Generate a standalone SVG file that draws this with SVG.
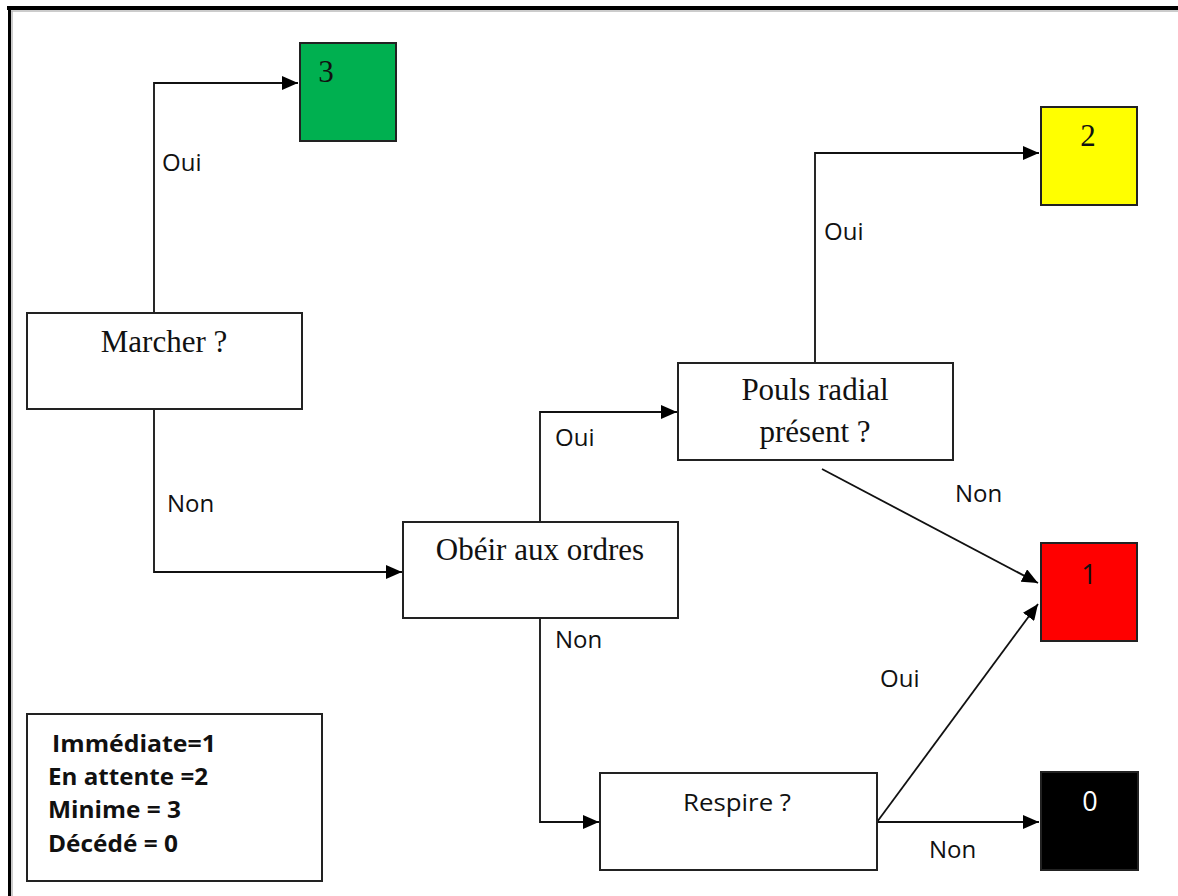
<svg xmlns="http://www.w3.org/2000/svg" width="1178" height="896" viewBox="0 0 1178 896">
  <defs>
    <marker id="arrow" markerWidth="16" markerHeight="14" refX="16" refY="7" orient="auto" markerUnits="userSpaceOnUse">
      <path d="M0,0 L16,7 L0,14 Z" fill="#000"/>
    </marker>
    <style>
      .box { fill: #fff; stroke: #222; stroke-width: 2; }
      .tag { stroke: #222; stroke-width: 2; }
      .edge { fill: none; stroke: #111; stroke-width: 1.8; }
      .serif { font-family: "Liberation Serif", "Times New Roman", serif; font-size: 31px; fill: #111; }
      .label { font-family: "Open Sans", "Noto Sans", sans-serif; font-size: 24px; fill: #111; }
      .digit { font-family: "Open Sans", "Noto Sans", sans-serif; font-size: 27px; fill: #111; }
      .legend { font-family: "Open Sans", "Noto Sans", sans-serif; font-size: 23px; font-weight: bold; fill: #111; }
    </style>
  </defs>

  <rect width="1178" height="896" fill="#fff"/>

  <!-- page frame: top and left edges only -->
  <g id="frame">
    <line x1="7" y1="8" x2="1178" y2="8" stroke="#000" stroke-width="4"/>
    <line x1="9.5" y1="6" x2="9.5" y2="896" stroke="#000" stroke-width="3"/>
    <line x1="11" y1="11" x2="1178" y2="11" stroke="#bbb" stroke-width="1.5"/>
    <line x1="12" y1="11" x2="12" y2="896" stroke="#bbb" stroke-width="1.5"/>
  </g>

  <!-- connectors -->
  <g id="connectors">
    <polyline class="edge" points="154,313 154,83 298,83" marker-end="url(#arrow)"/>
    <polyline class="edge" points="154,409 154,572 402,572" marker-end="url(#arrow)"/>
    <polyline class="edge" points="540,522 540,412 677,412" marker-end="url(#arrow)"/>
    <polyline class="edge" points="540,618 540,822 599,822" marker-end="url(#arrow)"/>
    <polyline class="edge" points="815,363 815,153 1039,153" marker-end="url(#arrow)"/>
    <line class="edge" x1="822" y1="469" x2="1038" y2="583" marker-end="url(#arrow)"/>
    <line class="edge" x1="877" y1="822" x2="1038" y2="604" marker-end="url(#arrow)"/>
    <line class="edge" x1="877" y1="822" x2="1039" y2="822" marker-end="url(#arrow)"/>

    <text class="label" x="162" y="171">Oui</text>
    <text class="label" x="167" y="512">Non</text>
    <text class="label" x="555" y="446">Oui</text>
    <text class="label" x="555" y="648">Non</text>
    <text class="label" x="824" y="240">Oui</text>
    <text class="label" x="955" y="502">Non</text>
    <text class="label" x="880" y="687">Oui</text>
    <text class="label" x="929" y="858">Non</text>
  </g>

  <!-- decision nodes -->
  <g id="marcher">
    <rect class="box" x="27" y="313" width="275" height="96"/>
    <text class="serif" x="164" y="352" text-anchor="middle">Marcher ?</text>
  </g>
  <g id="obeir">
    <rect class="box" x="403" y="522" width="275" height="96"/>
    <text class="serif" x="540" y="560" text-anchor="middle">Obéir aux ordres</text>
  </g>
  <g id="pouls">
    <rect class="box" x="678" y="363" width="275" height="97"/>
    <text class="serif" x="815" y="400" text-anchor="middle">Pouls radial</text>
    <text class="serif" x="815" y="442" text-anchor="middle">présent ?</text>
  </g>
  <g id="respire">
    <rect class="box" x="600" y="773" width="277" height="97"/>
    <text class="label" x="737" y="811" text-anchor="middle" textLength="108" lengthAdjust="spacingAndGlyphs">Respire ?</text>
  </g>

  <!-- triage categories -->
  <g id="cat3">
    <rect class="tag" x="300" y="43" width="96" height="98" fill="#00b050"/>
    <text class="serif" x="326" y="82" text-anchor="middle">3</text>
  </g>
  <g id="cat2">
    <rect class="tag" x="1041" y="107" width="96" height="98" fill="#ffff00"/>
    <text class="serif" x="1088" y="146" text-anchor="middle">2</text>
  </g>
  <g id="cat1">
    <rect class="tag" x="1041" y="543" width="96" height="98" fill="#ff0000"/>
    <text class="digit" x="1089" y="584" text-anchor="middle">1</text>
  </g>
  <g id="cat0">
    <rect class="tag" x="1041" y="772" width="97" height="98" fill="#000"/>
    <text class="digit" x="1090" y="811" text-anchor="middle" style="fill:#fff">0</text>
  </g>

  <!-- legend -->
  <g id="legend">
    <rect class="box" x="27" y="714" width="295" height="167"/>
    <text class="legend" x="52" y="752" textLength="164" lengthAdjust="spacingAndGlyphs">Immédiate=1</text>
    <text class="legend" x="48" y="785" textLength="160" lengthAdjust="spacingAndGlyphs">En attente =2</text>
    <text class="legend" x="48" y="818" textLength="133" lengthAdjust="spacingAndGlyphs">Minime = 3</text>
    <text class="legend" x="48" y="852" textLength="130" lengthAdjust="spacingAndGlyphs">Décédé = 0</text>
  </g>
</svg>
